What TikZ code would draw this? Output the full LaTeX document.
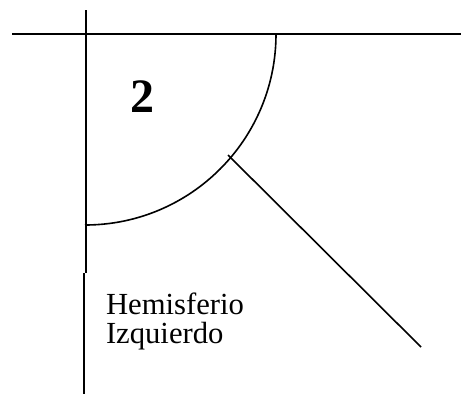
\documentclass[tikz,border=0pt]{standalone}
\usepackage{fontspec}
\setmainfont{Liberation Serif}
\usetikzlibrary{positioning}
\tikzset{lbl/.style={inner sep=0pt,anchor=base west,font=\fontsize{23}{27}\selectfont}}
\begin{document}
\begin{tikzpicture}[x=0.75pt,y=-0.75pt,line width=1.5pt]
\useasboundingbox (0,0) rectangle (461,394);
\coordinate (c) at (85,34);\coordinate (r) at (461,34);\coordinate (l) at (12,34);
\coordinate (t) at (86,10);\coordinate (m) at (86,273);\coordinate (m2) at (84,273);\coordinate (b) at (84,394);
\coordinate (p) at (228,155);\coordinate (q) at (421,347);
\draw (l)--(r);
\draw (t)--(m);
\draw[line width=1pt] (m2)--(b);
\draw[line width=1.2pt] ([xshift=191*0.75pt]c) arc[start angle=0,end angle=90,radius=191];
\draw[line width=1.2pt] (p)--(q);
\node[lbl,font=\fontsize{36}{40}\selectfont\bfseries] (num) at (129,112) {2};
\node[lbl] (hem) at (105,314) {Hemisferio};
\node[lbl] (izq) at (105,343) {Izquierdo};
\end{tikzpicture}
\end{document}
